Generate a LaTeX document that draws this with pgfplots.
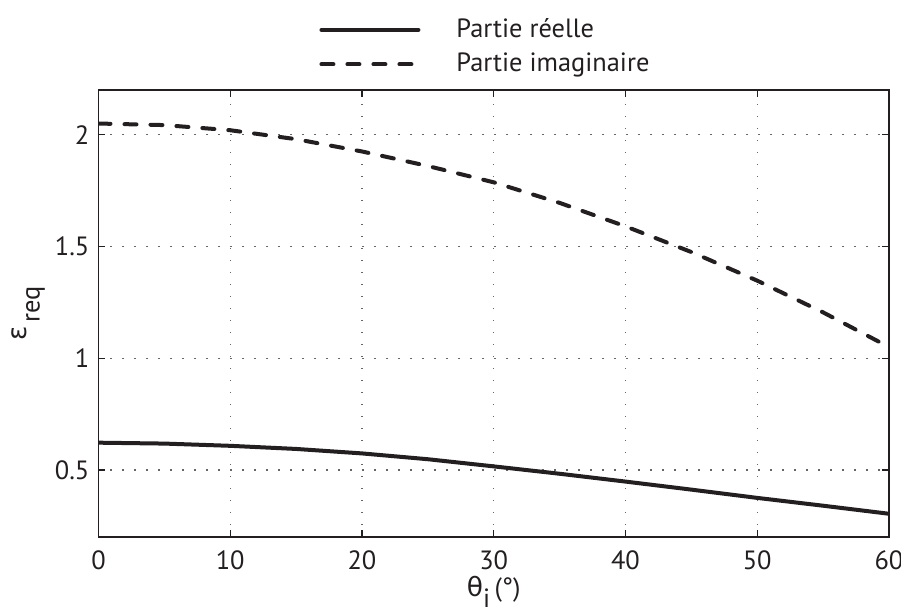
\documentclass[border=0pt]{standalone}
\usepackage{fontspec}
\setmainfont{PT Sans}
\newfontfamily\greek{DejaVu Sans}
\usepackage{pgfplots}
\pgfplotsset{compat=1.18}
\definecolor{ink}{HTML}{231F20}
\newcommand\lblfont{\fontsize{13.2}{15}\selectfont}
\begin{document}
\lblfont
\begin{tikzpicture}
\useasboundingbox (-49.25pt,-37.5pt) rectangle (401.25pt,268.5pt);
\begin{axis}[
  at={(0,0)}, anchor=south west,
  scale only axis, width=395.25pt, height=223.5pt,
  xmin=0, xmax=60, ymin=0.2, ymax=2.2,
  xtick={0,10,...,60}, ytick={0.5,1,1.5,2},
  tick align=inside, tick pos=both,
  major tick length=3.5pt,
  tick style={ink, line width=0.6pt},
  axis line style={ink, line width=0.8pt},
  grid=major,
  major grid style={gray!80!black, line width=0.6pt, dash pattern=on 0.6pt off 5.4pt},
  /pgf/number format/assume math mode=true,
  ticklabel style={font=\lblfont, text=ink},
  xticklabel style={yshift=-2.5pt},
  xlabel={{\greek θ}\raisebox{-0.4em}{i}\,(°)},
  ylabel={{\greek ε}\,\raisebox{-0.5em}{req}},
  xlabel style={font=\lblfont, text=ink, yshift=6pt},
  ylabel style={font=\lblfont, text=ink, yshift=-4pt},
  legend style={draw=none, fill=none, inner sep=0pt, at={(0.279,1.17)}, anchor=north west,
    font=\lblfont, text=ink, row sep=1.8pt,
    /tikz/every odd column/.append style={column sep=12pt}},
  legend cell align=left,
  legend image code/.code={\draw[#1] (0pt,0pt) -- (48.5pt,0pt);},
  legend style={nodes={inner xsep=6pt}},
]
\addplot[ink, line width=2pt, line cap=round] coordinates {
(0,0.622) (5,0.618) (10,0.608) (15,0.594) (20,0.574) (25,0.548) (30,0.516)
(35,0.483) (40,0.448) (45,0.412) (50,0.375) (55,0.340) (60,0.304)};
\addlegendentry{Partie réelle}
\addplot[ink, line width=2pt, line cap=round, dash pattern=on 6pt off 7pt] coordinates {
(0,2.050) (5,2.043) (10,2.020) (15,1.980) (20,1.925) (25,1.860) (30,1.787)
(35,1.695) (40,1.590) (45,1.475) (50,1.347) (55,1.205) (60,1.050)};
\addlegendentry{Partie imaginaire}
\end{axis}
\end{tikzpicture}
\end{document}
